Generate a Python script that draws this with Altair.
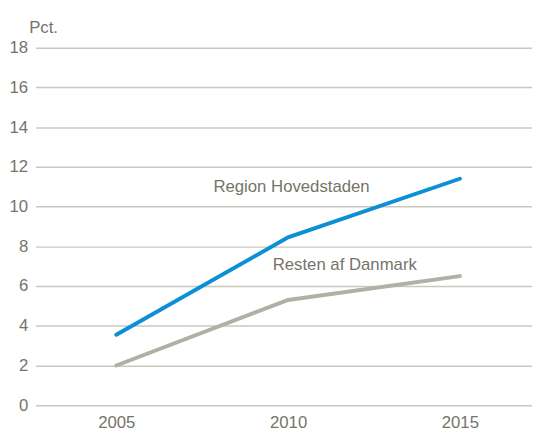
import altair as alt
import pandas as pd

years = [2005, 2010, 2015]
hovedstaden = [3.55, 8.45, 11.4]
resten = [2.0, 5.3, 6.5]
series_names = ["Region Hovedstaden", "Resten af Danmark"]
colors = ["#0b8fd5", "#b1b0a4"]

label_x = [2010.1, 2011.65]
label_y = [11.0, 7.05]

rows = []
for y, v in zip(years, hovedstaden):
    rows.append({"year": y, "value": v, "series": series_names[0]})
for y, v in zip(years, resten):
    rows.append({"year": y, "value": v, "series": series_names[1]})
df = pd.DataFrame(rows)
labels = pd.DataFrame({"series": series_names, "x": label_x, "y": label_y})

FONT = "Liberation Sans"
TXT = "#75746a"
FS = 17

xscale = alt.Scale(domain=[2002.65, 2017.1], nice=False, zero=False)
yscale = alt.Scale(domain=[0, 18], nice=False)

lines = alt.Chart(df).mark_line(strokeWidth=4, strokeCap="round").encode(
    x=alt.X("year:Q", scale=xscale,
            axis=alt.Axis(values=years, format="d", title=None, grid=False,
                          domain=False, ticks=False, labelPadding=10,
                          labelFontSize=FS, labelFont=FONT, labelColor=TXT)),
    y=alt.Y("value:Q", scale=yscale,
            axis=alt.Axis(values=list(range(0, 19, 2)), title="Pct.", titleAngle=0,
                          titleAlign="left", titleBaseline="alphabetic",
                          titleX=-7, titleY=-15, titleFont=FONT, titleFontSize=FS,
                          titleFontWeight="normal", titleColor=TXT,
                          grid=True, gridColor="#c9c8bd", gridWidth=1.5,
                          domain=False, ticks=False, labelPadding=8,
                          labelFontSize=FS, labelFont=FONT, labelColor=TXT,
                          labelBaseline="middle")),
    color=alt.Color("series:N", scale=alt.Scale(domain=series_names, range=colors), legend=None),
)

texts = alt.Chart(labels).mark_text(font=FONT, fontSize=FS, color=TXT, align="center",
                                    baseline="middle").encode(
    x=alt.X("x:Q", scale=xscale),
    y=alt.Y("y:Q", scale=yscale),
    text="series:N",
)

chart = alt.layer(lines, texts).properties(
    width=504, height=363,
    padding={"left": 28, "top": 37, "right": 0, "bottom": 28},
    autosize=alt.AutoSizeParams(type="none"),
).configure_view(stroke=None)

chart.save("out.html", embed_options={"renderer": "svg", "actions": False})
